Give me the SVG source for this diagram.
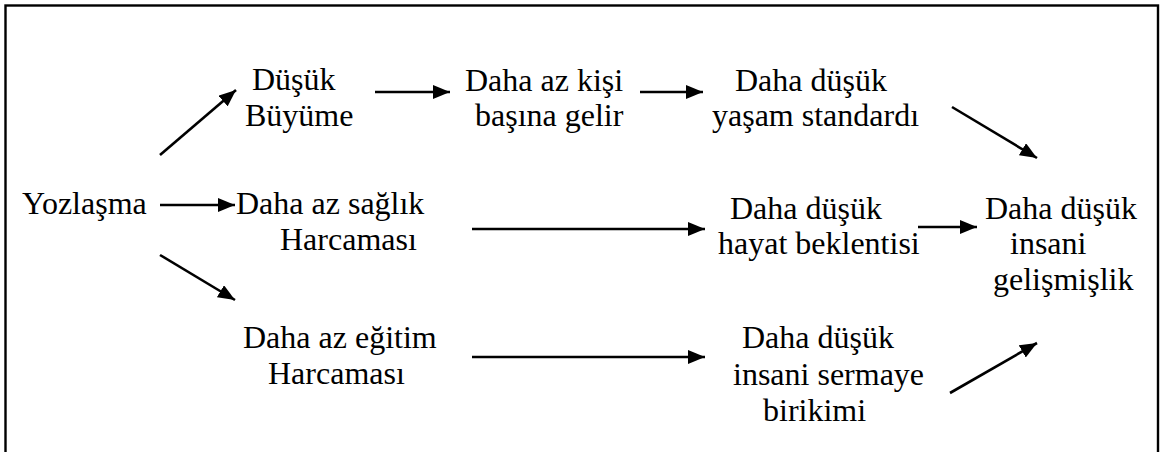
<svg xmlns="http://www.w3.org/2000/svg" width="1160" height="452" viewBox="0 0 1160 452">
  <style>
    .lbl { font-family: "Liberation Serif", "Times New Roman", serif; font-size: 32px; fill: #000; }
    .conn { stroke: #000; stroke-width: 2.6; fill: none; marker-end: url(#head); }
  </style>
  <defs>
    <marker id="head" markerUnits="userSpaceOnUse" markerWidth="18" markerHeight="14" refX="17" refY="7" orient="auto">
      <path d="M0,0 L17,7 L0,14 z" fill="#000"/>
    </marker>
  </defs>
  <rect width="1160" height="452" fill="#fff"/>
  <!-- frame (open at the bottom edge) -->
  <rect x="5.5" y="5.5" width="1152.5" height="470" fill="none" stroke="#000" stroke-width="2.4"/>

  <g id="yozlasma"><text class="lbl" x="22" y="214">Yozlaşma</text></g>
  <g id="dusuk-buyume">
    <text class="lbl" x="252" y="90">Düşük</text>
    <text class="lbl" x="245" y="126">Büyüme</text>
  </g>
  <g id="kisi-basina-gelir">
    <text class="lbl" x="465" y="91">Daha az kişi</text>
    <text class="lbl" x="475" y="126">başına gelir</text>
  </g>
  <g id="yasam-standardi">
    <text class="lbl" x="735" y="91">Daha düşük</text>
    <text class="lbl" x="712" y="126">yaşam standardı</text>
  </g>
  <g id="saglik-harcamasi">
    <text class="lbl" x="236" y="214">Daha az sağlık</text>
    <text class="lbl" x="280" y="250">Harcaması</text>
  </g>
  <g id="hayat-beklentisi">
    <text class="lbl" x="730" y="219">Daha düşük</text>
    <text class="lbl" x="718" y="254">hayat beklentisi</text>
  </g>
  <g id="insani-gelismislik">
    <text class="lbl" x="985" y="219">Daha düşük</text>
    <text class="lbl" x="1010" y="254">insani</text>
    <text class="lbl" x="993" y="290">gelişmişlik</text>
  </g>
  <g id="egitim-harcamasi">
    <text class="lbl" x="243" y="348">Daha az eğitim</text>
    <text class="lbl" x="268" y="384">Harcaması</text>
  </g>
  <g id="sermaye-birikimi">
    <text class="lbl" x="742" y="348">Daha düşük</text>
    <text class="lbl" x="733" y="385">insani sermaye</text>
    <text class="lbl" x="763" y="421">birikimi</text>
  </g>

  <g id="connectors">
    <line class="conn" x1="160" y1="155" x2="236" y2="90"/>
    <line class="conn" x1="375" y1="92" x2="450" y2="92"/>
    <line class="conn" x1="640" y1="92" x2="703" y2="92"/>
    <line class="conn" x1="952" y1="107" x2="1037" y2="158"/>
    <line class="conn" x1="160" y1="205" x2="235" y2="205"/>
    <line class="conn" x1="472" y1="229" x2="705" y2="229"/>
    <line class="conn" x1="918" y1="227" x2="977" y2="227"/>
    <line class="conn" x1="160" y1="255" x2="235" y2="300"/>
    <line class="conn" x1="472" y1="357" x2="705" y2="357"/>
    <line class="conn" x1="950" y1="393" x2="1037" y2="343"/>
  </g>
</svg>
